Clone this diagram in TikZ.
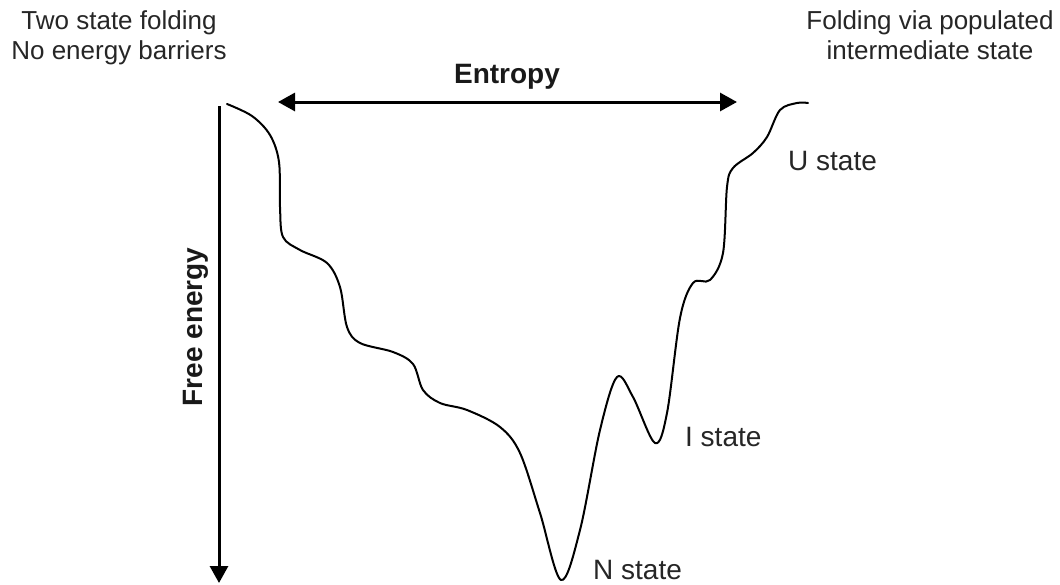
\documentclass[tikz,border=0pt]{standalone}
\usepackage{fontspec}
\setmainfont{Liberation Sans}
\usetikzlibrary{arrows.meta}
\begin{document}
\begin{tikzpicture}[x=1pt,y=-1pt,
  axisarrow/.style={line width=3pt,-{Triangle[length=17pt,width=18pt]}},
  entarrow/.style={line width=3pt,{Triangle[length=17pt,width=18pt]}-{Triangle[length=17pt,width=18pt]}},
  landscape/.style={line width=2pt,line join=round,line cap=round},
  title/.style={font=\fontsize{26}{30}\selectfont,align=center,inner sep=0pt,text=black!85},
  axislabel/.style={font=\fontsize{28}{32}\selectfont\bfseries,inner sep=0pt,text=black!90},
  statelabel/.style={font=\fontsize{28}{32}\selectfont,inner sep=0pt,text=black!85}]
\useasboundingbox (0,0) rectangle (1060,584);
% titles (base anchor = baseline of the last line)
\node[title,anchor=base] (lt) at (119,59) {Two state folding\\No energy barriers};
\node[title,anchor=base] (rt) at (930,59) {Folding via populated\\intermediate state};
% axes
\coordinate (eL) at (278,102);
\coordinate (eR) at (737,102);
\draw[entarrow] (eL) -- (eR);
\node[axislabel,anchor=base] (ent) at (507,83) {Entropy};
\coordinate (fT) at (219,106);
\coordinate (fB) at (219,583);
\draw[axisarrow] (fT) -- (fB);
\node[axislabel,anchor=base,rotate=90] (fe) at (202,327) {Free energy};
% energy landscape
\draw[landscape] plot[smooth,tension=0.55] coordinates {
 (227,104) (252,116) (270,135) (279,162) (280,207) (283,237) (300,250) (327,263)
 (340,287) (347,327) (360,343) (393,352) (413,364) (423,390) (440,403)
 (467,410) (500,427) (520,453) (540,513) (561,580) (580,530) (600,430)
 (617,377) (633,397) (655,443) (667,413) (680,318) (693,283) (710,280)
 (723,253) (727,187) (733,168) (753,153) (767,137) (780,110) (797,103) (808,103)};
% state labels
\node[statelabel,anchor=base west] (us) at (788,170) {U state};
\node[statelabel,anchor=base west] (is) at (685,446) {I state};
\node[statelabel,anchor=base west] (ns) at (593,579) {N state};
\end{tikzpicture}
\end{document}
